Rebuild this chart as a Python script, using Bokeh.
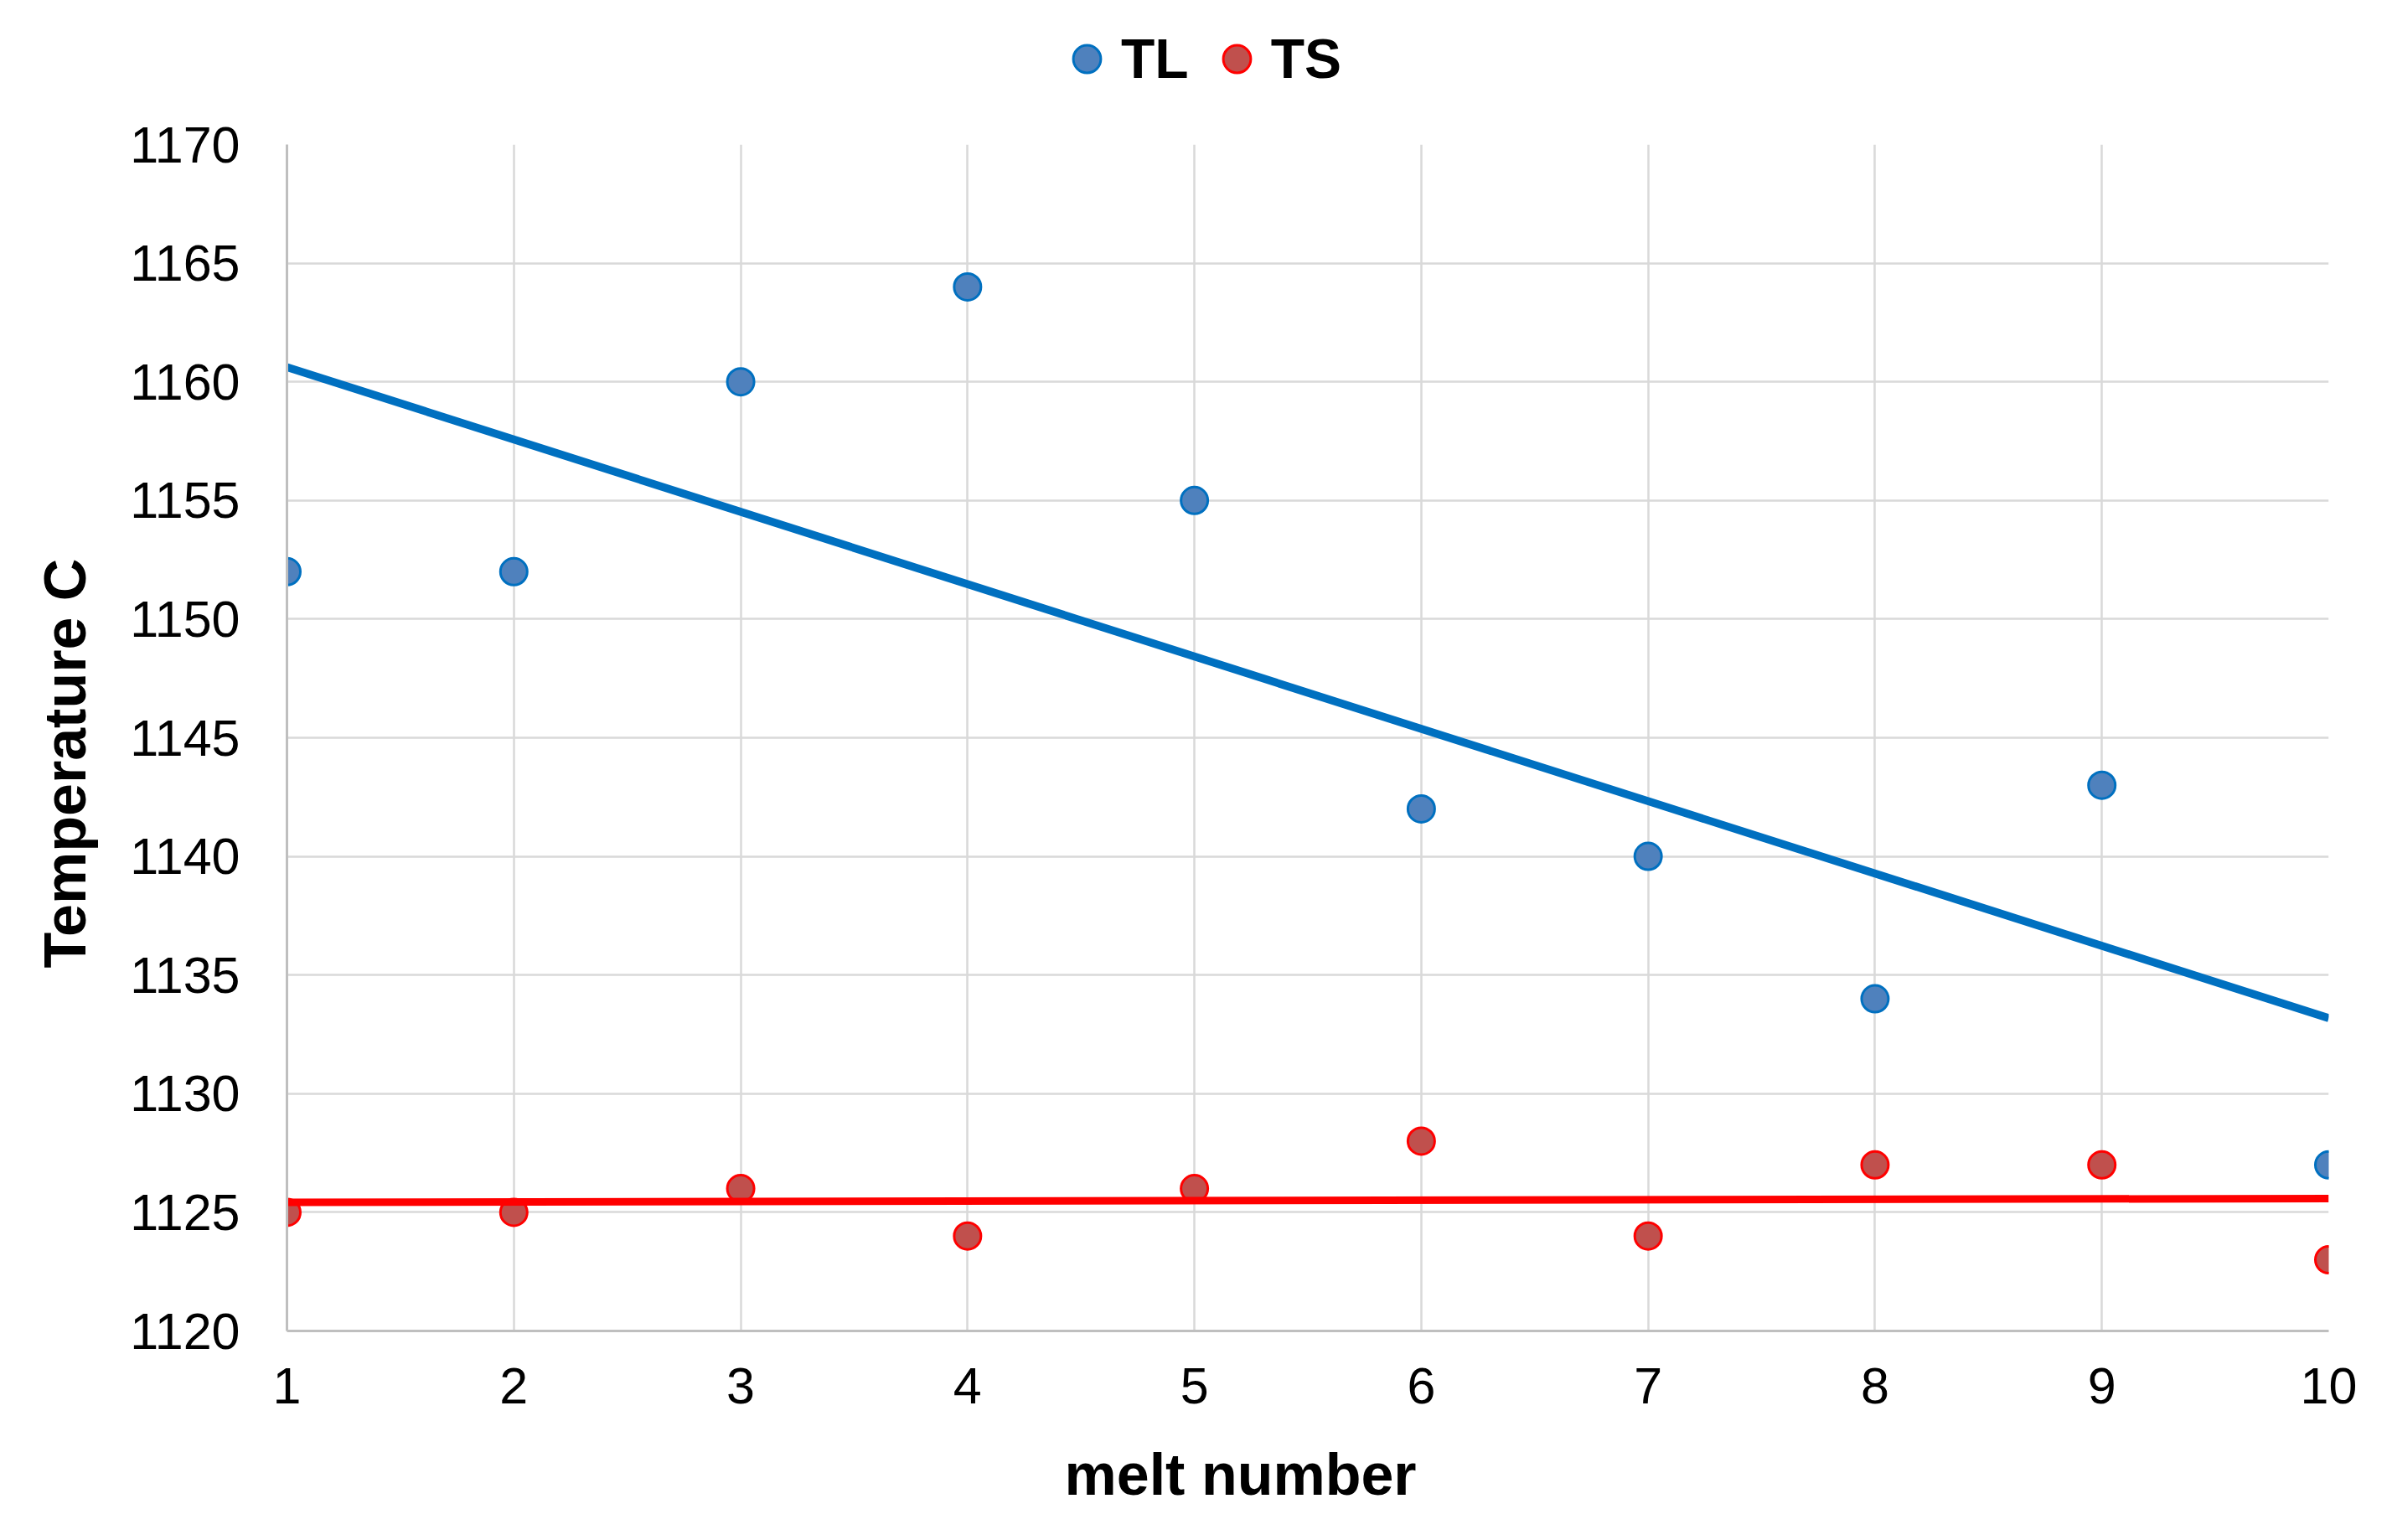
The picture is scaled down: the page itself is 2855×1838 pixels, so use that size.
from bokeh.plotting import figure
from bokeh.layouts import column
from bokeh.models import ColumnDataSource, FixedTicker, Legend, LegendItem, Range1d, Title
from bokeh.embed import file_html
from bokeh.resources import INLINE
import numpy as np

# ---- data ----
melt = [1, 2, 3, 4, 5, 6, 7, 8, 9, 10]
TL = [1152, 1152, 1160, 1164, 1155, 1142, 1140, 1134, 1143, 1127]
TS = [1125, 1125, 1126, 1124, 1126, 1128, 1124, 1127, 1127, 1123]
y_ticks = [1120, 1125, 1130, 1135, 1140, 1145, 1150, 1155, 1160, 1165, 1170]
x_ticks = melt
series_names = ["TL", "TS"]

FONT = "Liberation Sans"
TL_FILL, TL_LINE = "#4f81bd", "#0070c0"
TS_FILL, TS_LINE = "#c0504d", "#ff0000"

def trend(x, y):
    k, b = np.polyfit(np.array(x, float), np.array(y, float), 1)
    xs = [min(x), max(x)]
    return xs, [k * v + b for v in xs]

W = 2838
LEG_H = 116
FRAME_LEFT = 342

# ---- legend strip (its own small figure above the chart) ----
pl = figure(width=W, height=LEG_H, output_backend="svg", toolbar_location=None,
            x_axis_type=None, y_axis_type=None, x_range=Range1d(0, 1), y_range=Range1d(0, 1),
            min_border=0)
pl.outline_line_color = None
pl.background_fill_color = "white"
pl.border_fill_color = "white"
nan = [float("nan")]
e_tl = pl.scatter(x=nan, y=nan, size=32, fill_color=TL_FILL, line_color=TL_LINE, line_width=3)
e_ts = pl.scatter(x=nan, y=nan, size=32, fill_color=TS_FILL, line_color=TS_LINE, line_width=3)
legend = Legend(items=[LegendItem(label=series_names[0], renderers=[e_tl]),
                       LegendItem(label=series_names[1], renderers=[e_ts])],
                orientation="horizontal", location=(1256 - FRAME_LEFT, LEG_H - 111),
                glyph_width=82, glyph_height=82, label_standoff=-9, spacing=16,
                padding=0, margin=0, border_line_color=None, background_fill_alpha=0,
                label_text_font=FONT, label_text_font_size="66px",
                label_text_font_style="bold", label_text_color="black")
pl.add_layout(legend, "center")

# ---- main chart ----
p = figure(frame_width=2437, frame_height=1416, output_backend="svg", toolbar_location=None,
           x_range=Range1d(1, 10), y_range=Range1d(1120, 1170),
           min_border_left=FRAME_LEFT, min_border_right=59, min_border_top=172 - LEG_H,
           min_border_bottom=0)
p.outline_line_color = None
p.background_fill_color = "white"
p.border_fill_color = "white"

for ax in (p.xaxis[0], p.yaxis[0]):
    ax.axis_line_color = "#bfbfbf"
    ax.axis_line_width = 3
    ax.major_tick_line_color = None
    ax.minor_tick_line_color = None
    ax.major_label_text_font = FONT
    ax.major_label_text_font_size = "61px"
    ax.major_label_text_color = "black"

p.xaxis.ticker = FixedTicker(ticks=x_ticks)
p.yaxis.ticker = FixedTicker(ticks=y_ticks)
p.xaxis.major_label_standoff = 38
p.yaxis.major_label_standoff = 50

for g in (p.xgrid[0], p.ygrid[0]):
    g.grid_line_color = "#d9d9d9"
    g.grid_line_width = 2.5
p.xgrid[0].ticker = p.xaxis[0].ticker
p.ygrid[0].ticker = p.yaxis[0].ticker

xt = Title(text="melt number", align="left", offset=928, standoff=83,
           text_font=FONT, text_font_size="70px", text_font_style="bold", text_color="black")
p.add_layout(xt, "below")
yt = Title(text="Temperature C", align="left", offset=433, standoff=71,
           text_font=FONT, text_font_size="70px", text_font_style="bold", text_color="black")
p.add_layout(yt, "left")

src = ColumnDataSource(dict(x=melt, tl=TL, ts=TS))
p.scatter("x", "tl", source=src, size=32, fill_color=TL_FILL, line_color=TL_LINE, line_width=3)
p.scatter("x", "ts", source=src, size=32, fill_color=TS_FILL, line_color=TS_LINE, line_width=3)

tx, ty = trend(melt, TL)
p.line(tx, ty, line_color=TL_LINE, line_width=9.5)
sx, sy = trend(melt, TS)
p.line(sx, sy, line_color=TS_LINE, line_width=9)

layout = column(pl, p, spacing=0)
open("out.html", "w").write(file_html(layout, INLINE))
